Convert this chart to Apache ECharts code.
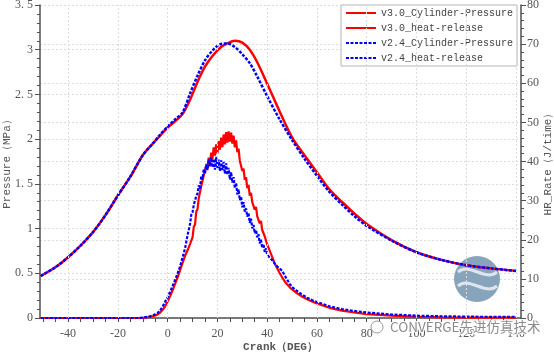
<!DOCTYPE html>
<html>
<head>
<meta charset="utf-8">
<script src="https://cdn.jsdelivr.net/npm/echarts@6/dist/echarts.min.js"></script>
<style>
	html, body { margin: 0; padding: 0; background: #fff; }
	#chart1 { width: 554px; height: 353px; }
</style>
</head>
<body>
<div id="chart1"></div>
<script>
"use strict";

/*-----data-----*/
var seriesNames = ['v3.0_Cylinder-Pressure', 'v3.0_heat-release', 'v2.4_Cylinder-Pressure', 'v2.4_heat-release'];
var xTickLabels = [-40, -20, 0, 20, 40, 60, 80, 100, 120, 140];
var xMinorTicks = [-50, -45, -40, -35, -30, -25, -20, -15, -10, -5, 0, 5, 10, 15, 20, 25, 30, 35, 40, 45, 50, 55, 60, 65, 70, 75, 80, 85, 90, 95, 100, 105, 110, 115, 120, 125, 130, 135, 140];

var crankP = [-51, -45, -40, -35, -30, -25, -20, -15, -10, -6, -3, 0, 3, 6, 9, 12, 15, 18, 21, 24, 27, 30, 33, 36, 40, 45, 50, 55, 60, 65, 70, 75, 80, 90, 100, 110, 120, 130, 140];
var pressV30 = [0.47, 0.57, 0.68, 0.81, 0.96, 1.15, 1.37, 1.58, 1.82, 1.95, 2.04, 2.13, 2.20, 2.28, 2.44, 2.64, 2.81, 2.93, 3.02, 3.07, 3.10, 3.08, 3.00, 2.86, 2.62, 2.31, 2.02, 1.82, 1.63, 1.44, 1.30, 1.17, 1.05, 0.87, 0.735, 0.65, 0.59, 0.555, 0.527];
var pressV24 = [0.47, 0.57, 0.68, 0.81, 0.96, 1.15, 1.37, 1.58, 1.82, 1.95, 2.05, 2.14, 2.22, 2.30, 2.51, 2.71, 2.88, 2.99, 3.06, 3.07, 3.03, 2.95, 2.85, 2.70, 2.48, 2.22, 1.99, 1.78, 1.59, 1.41, 1.27, 1.14, 1.03, 0.865, 0.735, 0.65, 0.59, 0.555, 0.525];

var crankHR = [-51, -30, -15, -12, -10, -8, -6, -4, -3, -2, -1,
	0, 1, 2, 3, 4, 5, 6, 7, 8, 9, 9.5,
	10, 10.5, 11, 11.5, 12, 12.5, 13, 13.5, 14, 14.5, 15, 15.5, 16, 16.5, 17, 17.5, 18, 18.5, 19, 19.5,
	20, 20.5, 21, 21.5, 22, 22.5, 23, 23.5, 24, 24.5, 25, 25.5, 26, 26.5, 27, 27.5, 28, 28.5, 29, 29.5,
	30, 30.5, 31, 31.5, 32, 32.5, 33, 33.5, 34, 34.5, 35, 35.5, 36, 36.5, 37, 37.5, 38, 38.5, 39, 39.5, 40,
	41, 42, 43, 44, 45, 46, 47, 48, 49, 50, 52, 54, 56, 58, 60, 65, 70, 75, 80, 90, 100, 110, 120, 130, 140];
var hrV30 = [0, 0, 0, 0, 0.05, 0.2, 0.4, 0.9, 1.4, 2.1, 3.0,
	4.2, 5.6, 7.1, 8.7, 10.4, 12.2, 14.1, 15.9, 17.3, 18.9, 19.8,
	20.6, 23.3, 23.9, 27.2, 27.8, 30.6, 30.9, 33.7, 33.8, 36.4, 36.2, 38.9, 38.1, 41.0, 39.4, 42.3, 40.6, 43.6, 41.5, 44.4,
	42.1, 45.2, 43.0, 46.1, 43.7, 46.9, 44.4, 47.5, 44.8, 47.7, 45.1, 47.4, 44.6, 46.6, 43.6, 45.4, 42.4, 43.3, 40.2, 40.6,
	37.6, 38.2, 35.3, 36.0, 33.2, 34.0, 31.3, 32.0, 29.6, 30.1, 27.7, 28.4, 26.0, 26.5, 24.2, 24.8, 22.5, 23.0, 20.9, 21.1, 18.8,
	17.2, 15.6, 14.0, 12.7, 11.5, 10.4, 9.4, 8.6, 7.9, 7.3, 6.3, 5.5, 4.8, 4.2, 3.7, 2.6, 1.9, 1.4, 1.0, 0.6, 0.3, 0.15, 0.1, 0.1, 0.1];
var hrV24 = [0, 0, 0, 0, 0.1, 0.3, 0.6, 1.3, 2.0, 2.9, 4.2,
	5.3, 6.7, 8.2, 9.7, 11.4, 13.2, 15.5, 17.8, 21.2, 24.0, 26.4,
	27.0, 28.9, 28.4, 31.2, 31.8, 33.9, 33.1, 36.2, 35.4, 38.1, 36.9, 39.4, 37.8, 40.6, 38.7, 41.0, 38.5, 40.7, 37.9, 41.2,
	38.4, 40.5, 37.6, 40.3, 37.8, 39.9, 36.9, 39.5, 36.6, 38.4, 35.4, 37.3, 34.6, 36.0, 33.2, 34.5, 31.6, 32.9, 30.1, 31.0,
	28.3, 29.6, 27.2, 28.0, 25.9, 26.8, 24.3, 25.4, 22.9, 23.8, 21.7, 22.5, 20.6, 21.4, 19.1, 20.0, 17.9, 18.9, 16.9, 17.8, 16.2,
	15.4, 14.8, 13.9, 13.2, 12.6, 12.1, 10.9, 9.8, 8.8, 7.9, 6.9, 6.0, 5.2, 4.6, 4.1, 3.0, 2.3, 1.8, 1.4, 0.9, 0.6, 0.45, 0.35, 0.3, 0.3];

function pairs(xs, ys) {
	return xs.map(function (x, i) { return [x, ys[i]]; });
}

/*-----styles-----*/
var axisColor = '#505050';
var labelFont = { fontFamily: 'Liberation Serif', fontSize: 12, color: '#555' };
var nameFont = { fontFamily: 'Liberation Mono', fontSize: 11, color: '#555' };
var gridStyle = { color: '#dcdcdc', type: [2, 2], width: 1 };

var chart = echarts.init(document.getElementById('chart1'));
var option = {
	animation: false,
	backgroundColor: '#fff',
	grid: {
		top: 5,
		right: 33,
		bottom: 35,
		left: 40,
		outerBoundsMode: 'none',
		containLabel: false
	},
	legend: {
		orient: 'vertical',
		left: 341,
		top: 5,
		padding: [3, 4, 3, 4],
		itemWidth: 30,
		itemHeight: 12,
		itemGap: 5,
		backgroundColor: '#fff',
		borderColor: '#b4b4b4',
		borderWidth: 1,
		borderRadius: 0,
		itemStyle: { opacity: 0 },
		textStyle: { fontFamily: 'Liberation Mono', fontSize: 10, color: '#444' },
		data: seriesNames
	},
	xAxis: {
		type: 'value',
		min: -51.3,
		max: 142,
		name: 'Crank（DEG）',
		nameLocation: 'middle',
		nameGap: 24,
		nameMoveOverlap: false,
		nameTextStyle: { fontFamily: 'Liberation Mono', fontSize: 11, color: '#555', fontWeight: 'bold' },
		axisLine: { show: true, onZero: false, lineStyle: { color: axisColor, width: 1.5 } },
		axisTick: { show: true, length: 4, customValues: xMinorTicks, lineStyle: { color: axisColor } },
		axisLabel: Object.assign({ margin: 10, customValues: xTickLabels }, labelFont),
		splitLine: { show: false }
	},
	yAxis: [{
		type: 'value',
		position: 'left',
		min: 0,
		max: 3.5,
		interval: 0.5,
		name: 'Pressure（MPa）',
		nameLocation: 'middle',
		nameGap: 27,
		nameMoveOverlap: false,
		nameTextStyle: nameFont,
		axisLine: { show: true, onZero: false, lineStyle: { color: axisColor, width: 1.5 } },
		axisTick: { show: true, length: 5, lineStyle: { color: axisColor } },
		minorTick: { show: true, splitNumber: 5, length: 3, lineStyle: { color: axisColor } },
		axisLabel: Object.assign({
			margin: 7,
			formatter: function (v) {
				return Number.isInteger(v) ? String(v) : String(v).replace('.', '. ');
			}
		}, labelFont),
		splitLine: { show: true, lineStyle: gridStyle }
	}, {
		type: 'value',
		position: 'right',
		min: 0,
		max: 80,
		interval: 10,
		name: 'HR_Rate（J/time）',
		nameLocation: 'middle',
		nameGap: 22,
		nameMoveOverlap: false,
		nameTextStyle: nameFont,
		axisLine: { show: true, onZero: false, lineStyle: { color: axisColor, width: 1.5 } },
		axisTick: { show: true, length: 5, lineStyle: { color: axisColor } },
		minorTick: { show: true, splitNumber: 5, length: 3, lineStyle: { color: axisColor } },
		axisLabel: Object.assign({ margin: 6 }, labelFont),
		splitLine: { show: true, lineStyle: gridStyle }
	}],
	series: [{
		// vertical dotted grid lines at the labelled crank angles
		name: 'xgrid',
		type: 'line',
		z: 1,
		data: [],
		markLine: {
			silent: true,
			symbol: 'none',
			label: { show: false },
			lineStyle: gridStyle,
			data: xTickLabels.map(function (v) { return { xAxis: v }; })
		}
	}, {
		name: seriesNames[0],
		type: 'line',
		yAxisIndex: 0,
		symbol: 'none',
		smooth: 0.3,
		lineStyle: { color: '#ff0000', width: 2.5 },
		itemStyle: { color: '#ff0000' },
		data: pairs(crankP, pressV30)
	}, {
		name: seriesNames[1],
		type: 'line',
		yAxisIndex: 1,
		symbol: 'none',
		lineStyle: { color: '#ff0000', width: 2.2 },
		itemStyle: { color: '#ff0000' },
		data: pairs(crankHR, hrV30)
	}, {
		name: seriesNames[2],
		type: 'line',
		yAxisIndex: 0,
		symbol: 'none',
		smooth: 0.3,
		lineStyle: { color: '#0000ff', width: 2.5, type: [3, 1.5] },
		itemStyle: { color: '#0000ff' },
		data: pairs(crankP, pressV24)
	}, {
		name: seriesNames[3],
		type: 'line',
		yAxisIndex: 1,
		symbol: 'none',
		lineStyle: { color: '#0000ff', width: 2.2, type: [3, 1.5] },
		itemStyle: { color: '#0000ff' },
		data: pairs(crankHR, hrV24)
	}],
	// watermark and round logo in the lower right corner
	graphic: [{
		type: 'circle',
		z: 1,
		shape: { cx: 477, cy: 279, r: 23 },
		style: { fill: '#86a5bd' }
	}, {
		type: 'bezierCurve',
		z: 1,
		shape: { x1: 458, y1: 272, x2: 497, y2: 272, cpx1: 470, cpy1: 262, cpx2: 485, cpy2: 282 },
		style: { stroke: '#dfe5ea', lineWidth: 3, fill: null }
	}, {
		type: 'bezierCurve',
		z: 1,
		shape: { x1: 458, y1: 286, x2: 497, y2: 286, cpx1: 470, cpy1: 276, cpx2: 485, cpy2: 296 },
		style: { stroke: '#dfe5ea', lineWidth: 3, fill: null }
	}, {
		type: 'circle',
		z: 100,
		shape: { cx: 377, cy: 327, r: 6 },
		style: { fill: 'rgba(255,255,255,0.6)', stroke: '#999', lineWidth: 1 }
	}, {
		type: 'text',
		z: 100,
		left: 389,
		top: 319,
		style: {
			text: 'CONVERGE先进仿真技术',
			font: '13.5px "Noto Sans CJK SC", sans-serif',
			fill: '#8c8c8c',
			stroke: '#fff',
			lineWidth: 2
		}
	}]
};
chart.setOption(option);
window.addEventListener('resize', function () {
	chart.resize();
});
</script>
</body>
</html>
